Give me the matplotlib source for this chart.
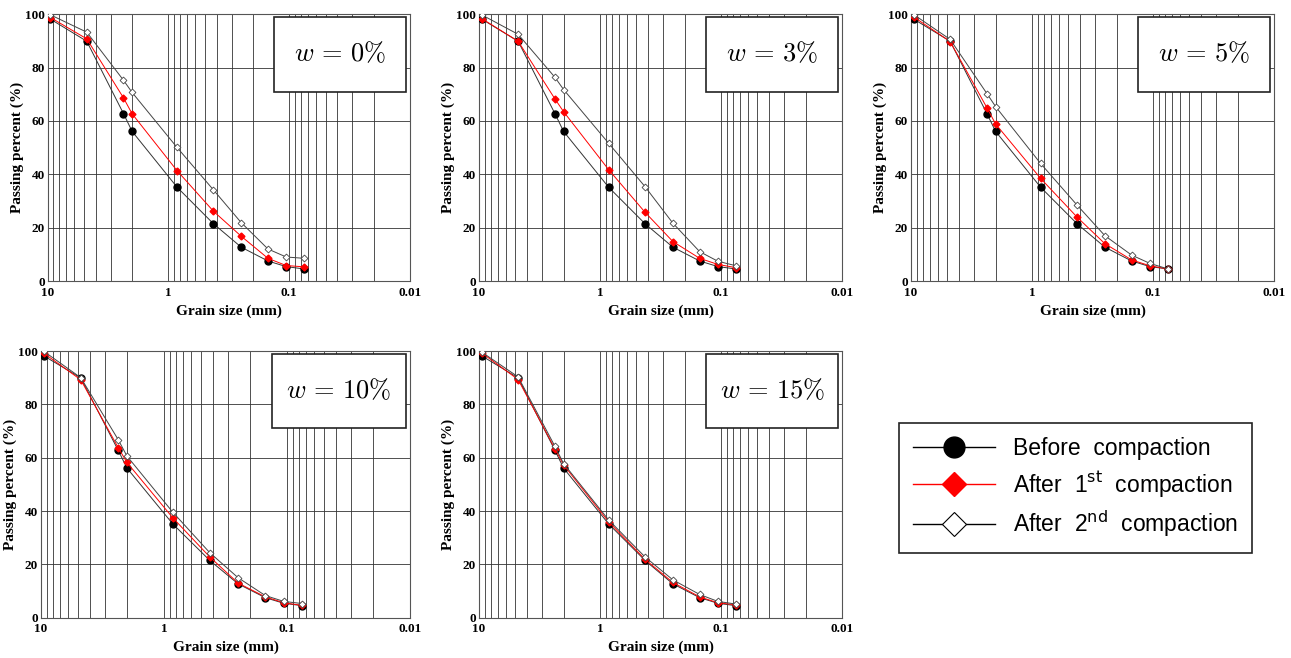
import numpy as np
import matplotlib.pyplot as plt
from matplotlib.lines import Line2D
from matplotlib.patches import Rectangle
from matplotlib.ticker import FixedLocator, FixedFormatter, LogLocator, NullFormatter

# sieve sizes (mm)
sizes = [9.5, 4.75, 2.36, 2.0, 0.85, 0.425, 0.25, 0.15, 0.106, 0.075]
before = [98.2, 89.9, 62.8, 56.1, 35.2, 21.5, 12.7, 7.5, 5.4, 4.5]

labels = ['0', '3', '5', '10', '15']
after1 = {
    '0': [98.8, 90.8, 68.7, 62.7, 41.4, 26.2, 16.8, 8.5, 5.8, 5.3],
    '3': [98.4, 89.9, 68.3, 63.5, 41.8, 25.8, 14.8, 8.5, 6.2, 5.0],
    '5': [99.0, 89.8, 65.0, 58.9, 38.5, 24.0, 14.0, 7.9, 5.7, 4.5],
    '10': [99.2, 89.2, 63.8, 58.2, 37.5, 22.8, 13.0, 7.8, 5.6, 4.6],
    '15': [99.3, 89.3, 63.4, 57.3, 36.0, 21.9, 13.2, 7.8, 5.6, 4.8],
}
after2 = {
    '0': [99.8, 93.3, 75.3, 70.7, 50.1, 34.2, 21.9, 12.0, 9.0, 8.5],
    '3': [99.8, 92.5, 76.4, 71.8, 51.7, 35.4, 21.7, 11.0, 7.4, 5.7],
    '5': [99.9, 90.6, 70.3, 65.4, 44.1, 28.5, 17.0, 9.7, 6.6, 4.5],
    '10': [99.9, 90.0, 66.8, 60.6, 39.6, 24.4, 15.0, 8.3, 6.1, 5.3],
    '15': [99.6, 90.3, 64.3, 57.8, 36.7, 22.8, 14.2, 8.7, 6.1, 5.1],
}

W, H = 1291, 658
fig = plt.figure(figsize=(W / 100, H / 100), dpi=100)

# axes boxes in pixels: left, top, right, bottom
boxes = [(47.7, 14.3, 410, 281), (479, 14.3, 842, 281), (911, 14.3, 1274, 281),
         (41, 351, 410, 617.7), (479, 351, 842, 617.7)]

serif = ['Liberation Serif', 'DejaVu Serif']

for lab, (l, t, r, b) in zip(labels, boxes):
    ax = fig.add_axes([l / W, 1 - b / H, (r - l) / W, (b - t) / H])
    ax.set_xscale('log')
    ax.set_xlim(10, 0.01)
    ax.set_ylim(0, 100)
    ax.xaxis.set_major_locator(FixedLocator([10, 1, 0.1, 0.01]))
    ax.xaxis.set_major_formatter(FixedFormatter(['10', '1', '0.1', '0.01']))
    ax.xaxis.set_minor_locator(LogLocator(base=10, subs=np.arange(2, 10)))
    ax.xaxis.set_minor_formatter(NullFormatter())
    ax.set_yticks([0, 20, 40, 60, 80, 100])
    ax.grid(True, which='both', axis='x', color='#333333', lw=0.6)
    ax.grid(True, which='major', axis='y', color='#333333', lw=0.6)
    ax.tick_params(which='both', length=0, pad=4)
    ax.tick_params(axis='y', pad=2)
    for tl in ax.get_xticklabels() + ax.get_yticklabels():
        tl.set_fontfamily(serif)
        tl.set_fontweight('bold')
        tl.set_fontsize(9.5)
    for s in ax.spines.values():
        s.set_color('#555555')
        s.set_linewidth(0.8)
    ax.set_xlabel('Grain size (mm)', family=serif, weight='bold', fontsize=11, labelpad=4)
    ax.set_ylabel('Passing percent (%)', family=serif, weight='bold', fontsize=11, labelpad=1)

    ax.plot(sizes, before, color='#333333', lw=0.7, marker='o', ms=5,
            mfc='black', mec='black', zorder=3)
    ax.plot(sizes, after1[lab], color='red', lw=0.7, marker='D', ms=3.5,
            mfc='red', mec='red', zorder=4)
    ax.plot(sizes, after2[lab], color='#444444', lw=0.7, marker='D', ms=3.5,
            mfc='white', mec='#444444', mew=0.6, zorder=5)

    ax.add_patch(Rectangle((0.625, 0.71), 0.365, 0.28, transform=ax.transAxes,
                           facecolor='white', edgecolor='#222222', lw=1.2, zorder=6))
    ax.text(0.8075, 0.85, r'$w\,=\,%s\%%$' % lab, transform=ax.transAxes,
            ha='center', va='center', fontsize=19, math_fontfamily='cm', zorder=7)

handles = [
    Line2D([], [], color='black', lw=1, marker='o', ms=15, mfc='black', mec='black'),
    Line2D([], [], color='red', lw=1, marker='D', ms=12, mfc='red', mec='red'),
    Line2D([], [], color='black', lw=1, marker='D', ms=12, mfc='white', mec='black', mew=0.8),
]
names = ['Before  compaction', r'After  1$^{\mathrm{st}}$  compaction',
         r'After  2$^{\mathrm{nd}}$  compaction']
leg = fig.legend(handles, names, loc='center',
                 bbox_to_anchor=(883 / W, 1 - 554 / H, 385 / W, 132 / H),
                 prop={'family': ['Liberation Sans', 'DejaVu Sans'], 'size': 16.5},
                 fancybox=False, edgecolor='#222222', framealpha=1,
                 handlelength=3.6, handletextpad=0.8, labelspacing=0.4,
                 borderpad=0.6)
leg.get_frame().set_linewidth(1.2)

fig.savefig('out.png', dpi=100)
